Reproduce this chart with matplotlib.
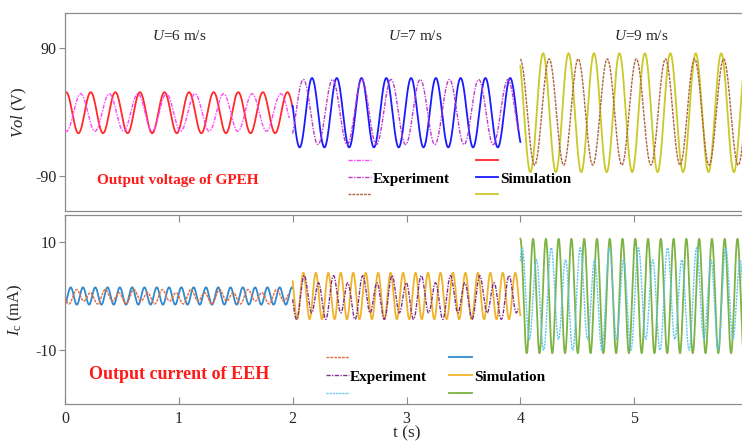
#!/usr/bin/env python3
"""
Output voltage (GPEH) and output current (EEH) for three wind speeds,
experiment vs. simulation, stacked in two panels sharing the time axis.

Writes: out.png
"""

import numpy as np
import matplotlib.pyplot as plt

# time windows for the three wind speeds (s)
SEG_START = [0.0, 2.0, 4.0]
SEG_END_SIM = [2.0, 4.0, 6.0]
SEG_END_EXP = [1.97, 3.98, 6.0]
WIND_LABELS = ["$U$=6 m/s", "$U$=7 m/s", "$U$=9 m/s"]
WIND_LABEL_T = [1.0, 3.08, 5.06]

# voltage, simulation: amplitude (V), period (s), time of a crest (s)
VOL_SIM_AMP = [29.0, 49.0, 84.0]
VOL_SIM_PERIOD = [0.216, 0.2176, 0.2235]
VOL_SIM_CREST = [0.01, 2.17, 4.20]
VOL_SIM_OFFSET = [-1.0, -1.0, -1.0]

# voltage, experiment
VOL_EXP_AMP = [26.5, 46.0, 75.0]
VOL_EXP_PERIOD = [0.251, 0.2567, 0.2555]
VOL_EXP_CREST = [0.138, 2.094, 4.253]
VOL_EXP_OFFSET = [-0.7, 0.0, 0.0]

# current, simulation: amplitude (mA), period (s), crest (s)
CUR_SIM_AMP = [1.6, 4.3, 10.6]
CUR_SIM_PERIOD = [0.108, 0.1095, 0.1122]
CUR_SIM_CREST = [0.05, 2.094, 4.0]

# current, experiment: double-frequency part + fundamental (mA)
CUR_EXP_AMP2 = [1.05, 3.4, 8.4]
CUR_EXP_AMP1 = [0.4, 0.9, 1.5]
CUR_EXP_PERIOD = [0.251, 0.257, 0.2555]
CUR_EXP_CREST = [0.10, 2.10, 4.27]
CUR_EXP_OFFSET = [-0.15, -0.3, -0.6]

VOL_SIM_COLORS = ["#ff2a2a", "#1a1aff", "#c9c928"]
VOL_EXP_COLORS = ["#ff44ff", "#c03ac8", "#b0603a"]
CUR_SIM_COLORS = ["#2f8ad0", "#f0b32a", "#7cb342"]
CUR_EXP_COLORS = ["#e8683a", "#7e2f8e", "#5cc4ef"]

VOL_EXP_STYLES = [(0, (3, 1, 1, 1)), (0, (3, 1, 1, 1)), (0, (2, 0.8))]
CUR_EXP_STYLES = [(0, (2, 0.8)), (0, (3, 1, 1, 1)), (0, (1.5, 0.8))]

SPINE_COLOR = "#8a8a8a"
TEXT_COLOR = "#262626"

plt.rcParams["font.family"] = ["Liberation Serif", "DejaVu Serif"]
plt.rcParams["mathtext.fontset"] = "custom"
plt.rcParams["mathtext.rm"] = "Liberation Serif"
plt.rcParams["mathtext.it"] = "Liberation Serif:italic"
plt.rcParams["axes.unicode_minus"] = False


def wave(t, amp, period, crest, offset=0.0):
    return offset + amp * np.cos(2 * np.pi * (t - crest) / period)


def style_axes(ax):
    for side in ("top", "bottom", "left", "right"):
        ax.spines[side].set_color(SPINE_COLOR)
        ax.spines[side].set_linewidth(0.9)
    ax.spines["right"].set_visible(False)
    ax.tick_params(axis="y", direction="out", length=4, width=0.8,
                   color=SPINE_COLOR, labelcolor=TEXT_COLOR,
                   labelsize=11.5, pad=2)


def main():
    fig = plt.figure(figsize=(7.42, 4.43), dpi=100)
    ax_v = fig.add_axes([0.0876, 0.5237, 0.9205, 0.447])
    ax_i = fig.add_axes([0.0876, 0.0880, 0.9205, 0.4267])

    vol_exp_h, vol_sim_h, cur_exp_h, cur_sim_h = [], [], [], []
    for k in range(3):
        ts = np.linspace(SEG_START[k], SEG_END_SIM[k], 3000)
        te = np.linspace(SEG_START[k], SEG_END_EXP[k], 3000)

        v_exp = wave(te, VOL_EXP_AMP[k], VOL_EXP_PERIOD[k],
                     VOL_EXP_CREST[k], VOL_EXP_OFFSET[k])
        v_sim = wave(ts, VOL_SIM_AMP[k], VOL_SIM_PERIOD[k],
                     VOL_SIM_CREST[k], VOL_SIM_OFFSET[k])
        h1, = ax_v.plot(te, v_exp, color=VOL_EXP_COLORS[k], lw=1.0,
                        ls=VOL_EXP_STYLES[k], zorder=3)
        h2, = ax_v.plot(ts, v_sim, color=VOL_SIM_COLORS[k], lw=1.3, zorder=2)
        vol_exp_h.append(h1)
        vol_sim_h.append(h2)

        i_exp = (wave(te, CUR_EXP_AMP2[k], CUR_EXP_PERIOD[k] / 2, CUR_EXP_CREST[k])
                 + wave(te, CUR_EXP_AMP1[k], CUR_EXP_PERIOD[k],
                        CUR_EXP_CREST[k] + 0.03, CUR_EXP_OFFSET[k]))
        i_sim = wave(ts, CUR_SIM_AMP[k], CUR_SIM_PERIOD[k], CUR_SIM_CREST[k])
        h3, = ax_i.plot(te, i_exp, color=CUR_EXP_COLORS[k], lw=1.0,
                        ls=CUR_EXP_STYLES[k], zorder=3)
        h4, = ax_i.plot(ts, i_sim, color=CUR_SIM_COLORS[k], lw=1.3, zorder=2)
        cur_exp_h.append(h3)
        cur_sim_h.append(h4)

        ax_v.text(WIND_LABEL_T[k], 108, WIND_LABELS[k], ha="center",
                  va="center", fontsize=11, color=TEXT_COLOR)

    # top panel: voltage
    ax_v.set_xlim(0, 6)
    ax_v.set_ylim(-140, 140)
    ax_v.set_yticks([-90, 90])
    ax_v.set_xticks([])
    style_axes(ax_v)
    ax_v.set_ylabel("$Vol$ (V)", fontsize=12, color=TEXT_COLOR)
    ax_v.yaxis.set_label_coords(-0.052, 0.5)
    ax_v.text(0.28, -97, "Output voltage of GPEH", color="#ff1a1a",
              fontsize=11, fontweight="bold", va="center", ha="left")

    # bottom panel: current
    ax_i.set_xlim(0, 6)
    ax_i.set_ylim(-20, 15)
    ax_i.set_yticks([-10, 10])
    ax_i.set_xticks([0, 1, 2, 3, 4, 5])
    style_axes(ax_i)
    ax_i.tick_params(axis="x", direction="in", length=5, width=0.8,
                     top=True, color=SPINE_COLOR, labelcolor=TEXT_COLOR,
                     labelsize=11.5, pad=5)
    ax_i.set_xlabel("t (s)", fontsize=12.5, color=TEXT_COLOR)
    ax_i.xaxis.set_label_coords(0.5, -0.115)
    ax_i.set_ylabel("$I_{\\mathrm{c}}$ (mA)", fontsize=12, color=TEXT_COLOR)
    ax_i.yaxis.set_label_coords(-0.058, 0.5)
    ax_i.text(0.21, -14.5, "Output current of EEH", color="#ff1a1a",
              fontsize=13, fontweight="bold", va="center", ha="left")

    labels = ["", "Experiment", "", "", "Simulation", ""]
    leg_font = {"family": "Liberation Serif", "weight": "bold", "size": 11}

    ax_v.legend(vol_exp_h + vol_sim_h, labels, ncol=2,
                loc="upper left", bbox_to_anchor=(0.469, 0.650),
                bbox_transform=fig.transFigure, frameon=False,
                prop=leg_font, handlelength=1.5, handletextpad=0.1,
                columnspacing=1.7, labelspacing=0.21,
                borderpad=0, borderaxespad=0)
    ax_i.legend(cur_exp_h + cur_sim_h, labels, ncol=2,
                loc="upper left", bbox_to_anchor=(0.439, 0.2055),
                bbox_transform=fig.transFigure, frameon=False,
                prop=leg_font, handlelength=1.5, handletextpad=0.1,
                columnspacing=1.45, labelspacing=0.28,
                borderpad=0, borderaxespad=0)

    fig.savefig("out.png", dpi=100)


if __name__ == "__main__":
    main()
